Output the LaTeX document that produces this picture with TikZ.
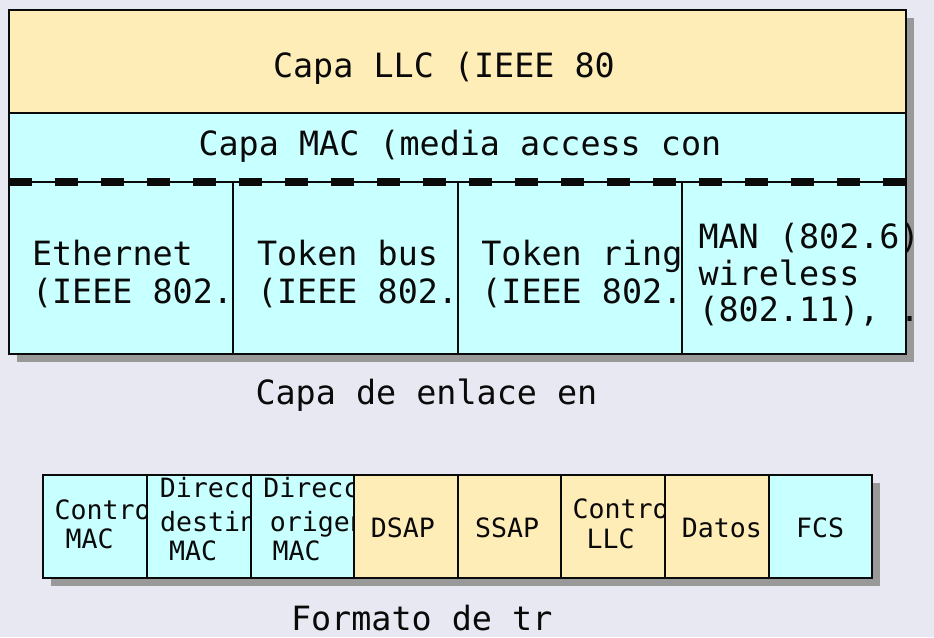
\documentclass[tikz,border=0pt]{standalone}
\usepackage{fontspec}
\newfontfamily\monofont{DejaVu Sans Mono}
\definecolor{bg}{HTML}{E8E8F2}
\definecolor{llcyel}{HTML}{FFEDB8}
\definecolor{maccyan}{HTML}{C8FFFF}
\definecolor{shade}{HTML}{999999}
\definecolor{ink}{HTML}{0A0A0A}
\tikzset{
  box/.style={draw=ink, line width=1.9pt, inner sep=0pt, outer sep=0pt, anchor=north west},
  yel/.style={box, fill=llcyel},
  cya/.style={box, fill=maccyan},
  bigtxt/.style={anchor=base west, inner sep=0pt, outer sep=0pt, text=ink, font=\monofont\fontsize{33.4}{37}\selectfont},
  smalltxt/.style={anchor=base west, inner sep=0pt, outer sep=0pt, text=ink, font=\monofont\fontsize{26.6}{30}\selectfont},
  shadowfill/.style={fill=shade},
  divider/.style={draw=ink, line width=1.9pt},
}
\begin{document}
\begin{tikzpicture}[x=1pt,y=-1pt]
\useasboundingbox (0,0) rectangle (934,637);
\fill[bg] (0,0) rectangle (934,637);

% ---------- upper block ----------
\coordinate (upTL) at (9,10);
\coordinate (upBR) at (906,354);
\fill[shadowfill] ([shift={(8,8)}]upTL) rectangle ([shift={(8,8)}]upBR);

\node[yel, minimum width=897pt, minimum height=103.3pt] (llc) at (9,10) {};
\node[bigtxt] (llctext) at (273,77.5) {Capa LLC (IEEE 80};

\node[cya, minimum width=897pt, minimum height=68.7pt] (mac) at (9,113.3) {};
\node[bigtxt] (mactext) at (198.5,155) {Capa MAC (media access con};

\node[cya, minimum width=224.3pt, minimum height=172pt] (c1) at (9,182) {};
\node[bigtxt] (c1a) at (32,265.7) {Ethernet};
\node[bigtxt] (c1b) at (32,303.3) {(IEEE 802.};

\node[cya, minimum width=224.3pt, minimum height=172pt] (c2) at (233.3,182) {};
\node[bigtxt] (c2a) at (257,265.7) {Token bus};
\node[bigtxt] (c2b) at (257,303.3) {(IEEE 802.};

\node[cya, minimum width=224.3pt, minimum height=172pt] (c3) at (457.6,182) {};
\node[bigtxt] (c3a) at (481.3,265.7) {Token ring};
\node[bigtxt] (c3b) at (481.3,303.3) {(IEEE 802.};

\node[cya, minimum width=224.4pt, minimum height=172pt] (c4) at (681.9,182) {};
\node[bigtxt] (c4a) at (698.5,248.5) {MAN (802.6)};
\node[bigtxt] (c4b) at (698.5,285.5) {wireless};
\node[bigtxt] (c4c) at (698.5,321.7) {(802.11), .};

\draw[ink, line width=7.3pt, dash pattern=on 23pt off 23pt] (mac.south west) -- (mac.south east);

\node[bigtxt] (cap1) at (255.5,404) {Capa de enlace en};

% ---------- frame format ----------
\coordinate (frTL) at (43,475);
\coordinate (frBR) at (872,578);
\fill[shadowfill] ([shift={(8,8)}]frTL) rectangle ([shift={(8,8)}]frBR);

\node[cya, minimum width=104pt, minimum height=103pt] (f1) at (43,475) {};
\begin{scope}
  \clip (f1.north west) rectangle (f1.south east);
  \node[smalltxt] (f1a) at (54.5,519.3) {Contro};
  \node[smalltxt] (f1b) at (65.5,548.3) {MAC};
\end{scope}

\node[cya, minimum width=104pt, minimum height=103pt] (f2) at (147,475) {};
\begin{scope}
  \clip (f2.north west) rectangle (f2.south east);
  \node[smalltxt] (f2a) at (159.8,497.3) {Direcc};
  \node[smalltxt] (f2b) at (160,531) {destin};
  \node[smalltxt] (f2c) at (169,560) {MAC};
\end{scope}

\node[cya, minimum width=103pt, minimum height=103pt] (f3) at (251,475) {};
\begin{scope}
  \clip (f3.north west) rectangle (f3.south east);
  \node[smalltxt] (f3a) at (263.3,497.3) {Direcc};
  \node[smalltxt] (f3b) at (269.8,531.5) {origen};
  \node[smalltxt] (f3c) at (272.5,560) {MAC};
\end{scope}

\node[yel, minimum width=104pt, minimum height=103pt] (f4) at (354,475) {};
\node[smalltxt] (f4a) at (370.8,537.3) {DSAP};

\node[yel, minimum width=103pt, minimum height=103pt] (f5) at (458,475) {};
\node[smalltxt] (f5a) at (475,537.3) {SSAP};

\node[yel, minimum width=104pt, minimum height=103pt] (f6) at (561,475) {};
\begin{scope}
  \clip (f6.north west) rectangle (f6.south east);
  \node[smalltxt] (f6a) at (572.5,518.3) {Contro};
  \node[smalltxt] (f6b) at (586.5,548.3) {LLC};
\end{scope}

\node[yel, minimum width=104pt, minimum height=103pt] (f7) at (665,475) {};
\node[smalltxt] (f7a) at (681.8,537.3) {Datos};

\node[cya, minimum width=103pt, minimum height=103pt] (f8) at (769,475) {};
\node[smalltxt] (f8a) at (796,537.3) {FCS};

% shared borders drawn over the clipped texts
\foreach \cell in {f2,f3,f4,f5,f6,f7,f8}{
  \draw[divider] (\cell.north west) -- (\cell.south west);
}

\node[bigtxt] (cap2) at (291,630) {Formato de tr};
\end{tikzpicture}
\end{document}
